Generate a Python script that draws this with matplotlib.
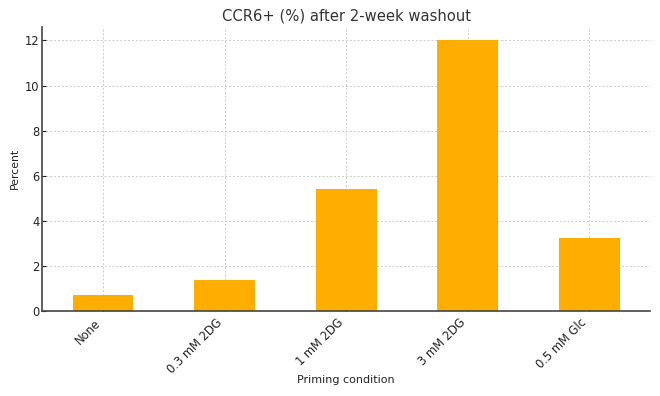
import matplotlib
matplotlib.use("Agg")
import matplotlib.pyplot as plt

# Priming conditions and CCR6+ percentages
conditions = ["None", "0.3 mM 2DG", "1 mM 2DG", "3 mM 2DG", "0.5 mM Glc"]
percent = [0.7, 1.37, 5.4, 12.0, 3.25]

fig, ax = plt.subplots(figsize=(6.6, 3.96), dpi=100)
ax.bar(conditions, percent, width=0.5, color="#FFAE00", zorder=2)

ax.set_title("CCR6+ (%) after 2-week washout", fontsize=10.6, color="#333333", pad=4.5)
ax.set_xlabel("Priming condition", fontsize=8, color="#222222")
ax.set_ylabel("Percent", fontsize=7.8, color="#222222")
ax.xaxis.set_label_coords(0.5, -0.225)
ax.yaxis.set_label_coords(-0.036, 0.5)

ax.set_xlim(-0.5, 4.5)
plt.setp(ax.get_xticklabels(), rotation=45, ha="right")
ax.tick_params(axis="both", labelsize=8.3, colors="#222222", direction="in", length=3)
ax.tick_params(axis="x", pad=4)
ax.tick_params(axis="y", pad=2)

ax.grid(True, linestyle=(0, (2, 2)), color="#cccccc", linewidth=0.7, zorder=0)
for side in ["top", "right"]:
    ax.spines[side].set_visible(False)
for side in ["left", "bottom"]:
    ax.spines[side].set_color("#444444")
    ax.spines[side].set_linewidth(1.2)

plt.subplots_adjust(left=0.064, right=0.985, top=0.932, bottom=0.215)
plt.savefig("out.png", dpi=100)
